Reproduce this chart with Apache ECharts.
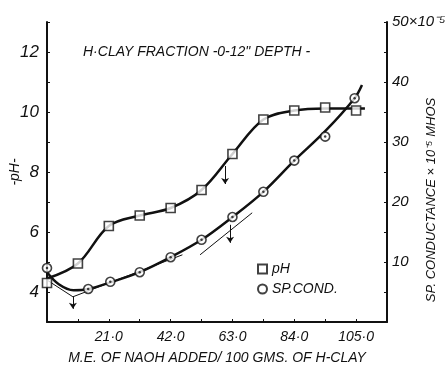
<!DOCTYPE html>
<html>
<head>
<meta charset="utf-8">
<script src="https://cdn.jsdelivr.net/npm/echarts@6/dist/echarts.min.js"></script>
<style>
  html, body { margin: 0; padding: 0; background: #fff; }
  #chart { width: 446px; height: 367px; }
</style>
</head>
<body>
<div id="chart"></div>
<script>
// pH readings (squares)
var phX = [0, 10.5, 21, 31.5, 42, 52.5, 63, 73.5, 84, 94.5, 105];
var phVals = [4.3, 4.95, 6.2, 6.55, 6.8, 7.4, 8.6, 9.75, 10.05, 10.15, 10.05];
// sp. conductance readings (circles), x 10^-5 mhos
var condX = [0, 14, 21.5, 31.5, 42, 52.5, 63, 73.5, 84, 94.5, 104.5];
var condVals = [9.0, 5.5, 6.7, 8.3, 10.8, 13.7, 17.5, 21.7, 26.9, 30.9, 37.3];

// hand drawn curves
var phCurveX = [0, 10.5, 21, 31.5, 42, 52.5, 63, 73.5, 84, 94.5, 108];
var phCurveY = [4.45, 4.95, 6.2, 6.55, 6.8, 7.4, 8.6, 9.75, 10.05, 10.12, 10.12];
var condCurveX = [0, 4, 9, 14, 21.5, 31.5, 42, 52.5, 63, 73.5, 84, 94.5, 104.5, 107];
var condCurveY = [8.3, 6.3, 5.3, 5.5, 6.6, 8.3, 10.8, 13.7, 17.5, 21.7, 26.9, 31.8, 37.3, 39.5];

// tangent construction lines (conductance units)
var tangentA = [[0, 7.0], [8.8, 4.2]];
var tangentB = [[8.8, 4.2], [46, 11.2]];
var tangentC = [[52, 11.2], [69.7, 18.2]];

// end point arrows
var condArrows = [[[8.8, 4.2], [8.8, 2.2]], [[62.2, 16.2], [62.2, 13.2]]];
var phArrows = [[[60.5, 8.2], [60.5, 7.6]]];

var xTicks = [21, 42, 63, 84, 105];
var phTicks = [4, 6, 8, 10, 12];
var condTicks = [10, 20, 30, 40, 50];

var FONT = "'Liberation Sans', Arial, sans-serif";
var ink = '#111';

function zip(xs, ys) {
  return xs.map(function(x, i) { return [x, ys[i]]; });
}
function arrowLines(list) {
  return list.map(function(a) {
    return [{coord: a[0]}, {coord: a[1]}];
  });
}
function tangent(pts) {
  return {
    type: 'line', yAxisIndex: 1, data: pts, symbol: 'none', silent: true,
    lineStyle: {color: ink, width: 1}, z: 2
  };
}

var chart = echarts.init(document.getElementById('chart'));
var option = {
  backgroundColor: '#fff',
  animation: false,
  textStyle: {fontFamily: FONT, fontStyle: 'italic', color: ink},
  title: {
    text: 'H\u00B7CLAY FRACTION -0-12" DEPTH -',
    left: 78, top: 40,
    textStyle: {fontFamily: FONT, fontStyle: 'italic', fontWeight: 'normal', fontSize: 14, color: ink}
  },
  legend: {
    orient: 'vertical',
    left: 252, top: 257,
    itemWidth: 9, itemHeight: 9, itemGap: 6,
    data: [{name: 'pH'}, {name: 'SP.COND.'}],
    textStyle: {fontFamily: FONT, fontStyle: 'italic', fontSize: 14, color: ink}
  },
  grid: {left: 47, right: 59, top: 22, bottom: 45, outerBoundsMode: 'none'},
  xAxis: {
    type: 'value', min: 0, max: 115.5, interval: 10.5,
    name: 'M.E. OF NAOH ADDED/ 100 GMS. OF H-CLAY',
    nameLocation: 'middle', nameGap: 29, nameMoveOverlap: false,
    nameTextStyle: {fontFamily: FONT, fontStyle: 'italic', fontSize: 14, color: ink},
    axisLine: {lineStyle: {color: ink, width: 2}},
    axisTick: {inside: true, length: 3, lineStyle: {color: ink}},
    splitLine: {show: false},
    axisLabel: {
      fontFamily: FONT, fontStyle: 'italic', fontSize: 14, color: ink, margin: 8,
      formatter: function(v) {
        var hit = xTicks.some(function(t) { return Math.abs(t - v) < 1e-6; });
        return hit ? v.toFixed(1).replace('.', '\u00B7') : '';
      }
    }
  },
  yAxis: [
    {
      type: 'value', min: 3, max: 13, interval: 1, position: 'left',
      name: '-pH-', nameLocation: 'middle', nameGap: 25, nameRotate: 90, nameMoveOverlap: false,
      nameTextStyle: {fontFamily: FONT, fontStyle: 'italic', fontSize: 14, color: ink},
      axisLine: {show: true, lineStyle: {color: ink, width: 2}},
      axisTick: {show: true, inside: true, length: 3, lineStyle: {color: ink}},
      splitLine: {show: false},
      axisLabel: {
        fontFamily: FONT, fontStyle: 'italic', fontSize: 17, color: ink, margin: 8,
        formatter: function(v) { return phTicks.indexOf(v) >= 0 ? String(v) : ''; }
      }
    },
    {
      type: 'value', min: 0, max: 50, interval: 5, position: 'right',
      name: 'SP. CONDUCTANCE \u00D7 10\u207B\u2075 MHOS', nameLocation: 'middle', nameGap: 38, nameRotate: 90,
      nameMoveOverlap: false,
      nameTextStyle: {fontFamily: FONT, fontStyle: 'italic', fontSize: 13, color: ink, padding: [0, 56, 0, 0]},
      axisLine: {show: true, lineStyle: {color: ink, width: 2}},
      axisTick: {show: true, inside: true, length: 3, lineStyle: {color: ink}},
      splitLine: {show: false},
      axisLabel: {
        fontFamily: FONT, fontStyle: 'italic', fontSize: 15, color: ink, margin: 5,
        formatter: function(v) {
          if (v === 50) return '50\u00D710\u207B\u2075';
          return condTicks.indexOf(v) >= 0 ? String(v) : '';
        }
      }
    }
  ],
  series: [
    {
      name: 'pH curve', type: 'line', yAxisIndex: 0,
      data: zip(phCurveX, phCurveY), smooth: 0.35, symbol: 'none', silent: true,
      lineStyle: {color: ink, width: 2.5}, z: 3,
      markLine: {
        silent: true, symbol: ['none', 'arrow'], symbolSize: 6,
        label: {show: false},
        lineStyle: {color: ink, width: 1, type: 'solid'},
        data: arrowLines(phArrows)
      }
    },
    {
      name: 'cond curve', type: 'line', yAxisIndex: 1,
      data: zip(condCurveX, condCurveY), smooth: 0.35, symbol: 'none', silent: true,
      lineStyle: {color: ink, width: 2.5}, z: 3,
      markLine: {
        silent: true, symbol: ['none', 'arrow'], symbolSize: 6,
        label: {show: false},
        lineStyle: {color: ink, width: 1, type: 'solid'},
        data: arrowLines(condArrows)
      }
    },
    tangent(tangentA),
    tangent(tangentB),
    tangent(tangentC),
    {
      name: 'pH', type: 'scatter', yAxisIndex: 0,
      data: zip(phX, phVals), symbol: 'rect', symbolSize: 9,
      itemStyle: {color: '#fff', borderColor: ink, borderWidth: 1.6}, z: 5
    },
    {
      name: 'SP.COND.', type: 'scatter', yAxisIndex: 1,
      data: zip(condX, condVals), symbol: 'circle', symbolSize: 9,
      itemStyle: {color: '#fff', borderColor: ink, borderWidth: 1.6}, z: 5
    },
    {
      name: 'cond dots', type: 'scatter', yAxisIndex: 1,
      data: zip(condX, condVals), symbol: 'circle', symbolSize: 2.5,
      itemStyle: {color: ink}, z: 6, silent: true
    }
  ]
};
chart.setOption(option);
</script>
</body>
</html>
